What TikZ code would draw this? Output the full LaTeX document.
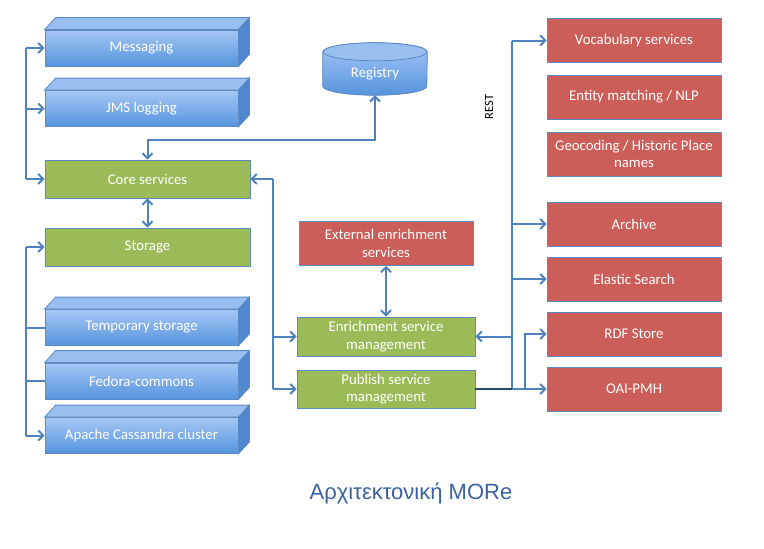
\documentclass[tikz,border=0pt]{standalone}
\usepackage{fontspec}
\setmainfont{Carlito}
\newfontfamily\titlefont{Liberation Sans}
\usetikzlibrary{arrows.meta,positioning,calc}

\definecolor{wire}{RGB}{79,129,189}
\definecolor{edge}{RGB}{92,138,196}
\definecolor{slabtop}{RGB}{165,199,244}
\definecolor{slabbot}{RGB}{86,148,222}
\definecolor{slabside}{RGB}{80,135,206}
\definecolor{slablid}{RGB}{152,191,240}
\definecolor{svcgreen}{RGB}{155,187,89}
\definecolor{extred}{RGB}{204,94,89}
\definecolor{titleblue}{RGB}{58,98,160}

% top and side faces of a 3D slab
\newcommand{\slabfaces}[1]{%
  \filldraw[draw=edge, line width=0.8pt, fill=slablid]
    (#1.north west) -- ++(11,-12) -- ($(#1.north east)+(11,-12)$)
    -- (#1.north east) -- cycle;
  \filldraw[draw=edge, line width=0.8pt, fill=slabside]
    (#1.north east) -- ++(11,-12) -- ($(#1.south east)+(11,-12)$)
    -- (#1.south east) -- cycle;}

\begin{document}
\begin{tikzpicture}[x=1pt, y=-1pt,
  font=\fontsize{14.8}{17.5}\selectfont,
  slab/.style={draw=edge, line width=0.8pt, top color=slabtop,
    bottom color=slabbot, text=white, minimum width=193pt,
    minimum height=36pt, inner sep=0pt},
  mgmt/.style={draw=edge, line width=0.8pt, fill=svcgreen, text=white,
    align=center, inner sep=0pt},
  ext/.style={draw=edge, line width=0.8pt, fill=extred, text=white,
    align=center, inner sep=0pt, minimum width=174pt, minimum height=44pt},
  blk/.style={wire, line width=2pt},
  arr/.style={blk, -{Straight Barb[length=5pt,width=10pt]}},
  dbl/.style={blk, {Straight Barb[length=5pt,width=10pt]}-{Straight Barb[length=5pt,width=10pt]}},
  note/.style={font=\fontsize{12.5}{14}\selectfont, text=black}
]
\useasboundingbox (0,0) rectangle (764,549);

% ── Left stack ────────────────────────────────────────────────────────────
\node[slab] (msg) at (141.5,48) {Messaging};
\node[slab] (jms) at (141.5,108.5) {JMS logging};
\node[mgmt, minimum width=205pt, minimum height=38pt] (core) at (147.5,179)
  {Core services};
\node[mgmt, minimum width=205pt, minimum height=38pt] (stor) at (147.5,247)
  {Storage};
\node[slab] (tmp) at (141.5,327.5) {Temporary storage};
\node[slab] (fed) at (141.5,381) {Fedora-commons};
\node[slab] (cas) at (141.5,435.5) {Apache Cassandra cluster};
\foreach \n in {msg,jms,tmp,fed,cas} \slabfaces{\n};

% ── Registry ──────────────────────────────────────────────────────────────
\node[minimum width=104pt, minimum height=52pt, inner sep=0pt] (reg)
  at (375,69) {};
\filldraw[draw=edge, line width=0.8pt, top color=slabtop, bottom color=slabbot]
  ($(reg.north west)+(0,9)$) -- ($(reg.south west)+(0,-9)$)
  arc[start angle=180, end angle=360, x radius=52pt, y radius=9pt]
  -- ($(reg.north east)+(0,9)$)
  arc[start angle=0, end angle=180, x radius=52pt, y radius=9pt] -- cycle;
\filldraw[draw=edge, line width=0.8pt, fill=slablid]
  ($(reg.north)+(0,9)$) ellipse[x radius=52pt, y radius=9pt];
\node[text=white] at ($(reg.center)+(0,5)$) {Registry};

% ── Enrichment and publishing ─────────────────────────────────────────────
\node[ext] (xenr) at (386,243.5) {External enrichment\\services};
\node[mgmt, minimum width=178pt, minimum height=39pt] (enr) at (386,336.5)
  {Enrichment service\\management};
\node[mgmt, minimum width=178pt, minimum height=38pt] (pub) at (386,389)
  {Publish service\\management};

% ── Right column ──────────────────────────────────────────────────────────
\node[ext] (voc) at (634,40.5) {Vocabulary services};
\node[ext] (ent) at (634,97) {Entity matching / NLP};
\node[ext] (geo) at (634,154) {Geocoding / Historic Place\\names};
\node[ext] (arc) at (634,224) {Archive};
\node[ext] (ela) at (634,279) {Elastic Search};
\node[ext] (rdf) at (634,334) {RDF Store};
\node[ext] (oai) at (634,389) {OAI-PMH};

\node[note, rotate=90] (rest) at (489,107) {REST};

% ── Connectors ────────────────────────────────────────────────────────────
\coordinate (lbus) at (26,0);
\coordinate (mbus) at (273,0);
\coordinate (rbus) at (512,0);
\coordinate (sbus) at (525,0);
\coordinate (regbend) at (375,140);

\draw[blk] (msg.west -| lbus) -- (core.west -| lbus);
\foreach \n in {msg,jms,core} \draw[arr] (\n.west -| lbus) -- (\n.west);
\draw[blk] (stor.west -| lbus) -- (cas.west -| lbus);
\foreach \n in {tmp,fed} \draw[blk] (\n.west -| lbus) -- (\n.west);
\foreach \n in {stor,cas} \draw[arr] (\n.west -| lbus) -- (\n.west);

\draw[dbl] (core) -- (stor);
\draw[dbl] (core.north) |- (regbend) -- (reg.south);

\draw[blk] (core.east -| mbus) -- (pub.west -| mbus);
\draw[arr] (core.east -| mbus) -- (core.east);
\foreach \n in {enr,pub} \draw[arr] (\n.west -| mbus) -- (\n.west);

\draw[dbl] (xenr) -- (enr);

\draw[blk] (voc.west -| rbus) -- (pub.east -| rbus);
\foreach \n in {voc,arc,ela} \draw[arr] (\n.west -| rbus) -- (\n.west);
\draw[arr] (enr.east -| rbus) -- (enr.east);
\draw[blk, wire!55!black] (pub.east) -- (pub.east -| rbus);
\draw[arr] (pub.east -| rbus) -- (oai.west);
\draw[arr] (oai.west -| sbus) |- (rdf.west);

% ── Caption ───────────────────────────────────────────────────────────────
\node[font=\titlefont\fontsize{22}{26}\selectfont, text=titleblue] (title)
  at (411,493) {Αρχιτεκτονική MORe};

\end{tikzpicture}
\end{document}
